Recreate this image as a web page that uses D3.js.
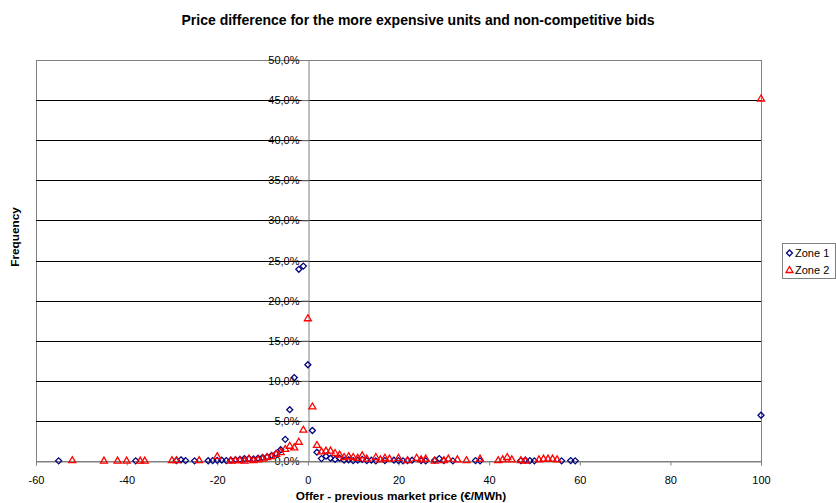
<!DOCTYPE html>
<html><head><meta charset="utf-8">
<script src="https://cdn.jsdelivr.net/npm/d3@7"></script>
<style>
body{margin:0;background:#fff;}
text{font-family:"Liberation Sans",Arial,sans-serif;}
</style></head>
<body><svg id="chart" width="836" height="503"></svg>
<script>
const title = "Price difference for the more expensive units and non-competitive bids";
const xTitle = "Offer - previous market price (€/MWh)";
const yTitle = "Frequency";
const seriesNames = ["Zone 1", "Zone 2"];
const xTicks = [-60, -40, -20, 0, 20, 40, 60, 80, 100];
const yTicks = [0, 5, 10, 15, 20, 25, 30, 35, 40, 45, 50];

const zone1X = [-55, -38, -29, -28, -27, -25, -22, -21, -20, -19, -18, -17, -16, -15, -14, -13, -12, -11, -10, -9, -8, -7, -6, -5, -4, -3, -2, -1, 0, 1, 2, 3, 4, 5, 6, 7, 8, 9, 10, 11, 12, 13, 14, 15, 17, 19, 20, 21, 22, 23, 25, 26, 28, 29, 30, 32, 37, 38, 47, 48, 49, 50, 56, 58, 59, 100];
const zone1Y = [0.02, 0.02, 0.05, 0.15, 0.05, 0.02, 0.03, 0.05, 0.08, 0.1, 0.05, 0.1, 0.15, 0.2, 0.3, 0.3, 0.25, 0.35, 0.45, 0.5, 0.7, 0.9, 1.4, 2.7, 6.4, 10.4, 23.9, 24.3, 12.0, 3.8, 1.1, 0.3, 0.6, 0.35, 0.2, 0.35, 0.1, 0.15, 0.05, 0.1, 0.2, 0.05, 0.1, 0.02, 0.05, 0.1, 0.05, 0.02, 0.05, 0.1, 0.05, 0.02, 0.1, 0.3, 0.05, 0.02, 0.05, 0.02, 0.05, 0.1, 0.05, 0.02, 0.02, 0.05, 0.02, 5.7];
const zone2X = [-52, -45, -42, -40, -37, -36, -30, -29, -24, -20, -17, -16, -15, -14, -13, -12, -11, -10, -9, -8, -7, -6, -5, -4, -3, -2, -1, 0, 1, 2, 3, 4, 5, 6, 7, 8, 9, 10, 11, 12, 13, 15, 16, 17, 18, 20, 22, 24, 25, 26, 28, 30, 31, 33, 35, 38, 42, 43, 44, 45, 47, 48, 51, 52, 53, 54, 55, 100];
const zone2Y = [0.1, 0.05, 0.05, 0.05, 0.05, 0.05, 0.1, 0.1, 0.1, 0.6, 0.05, 0.1, 0.1, 0.05, 0.3, 0.1, 0.2, 0.3, 0.5, 0.6, 0.9, 1.1, 1.5, 1.9, 1.7, 2.4, 3.9, 17.8, 6.8, 2.0, 1.2, 1.3, 1.3, 1.0, 0.8, 0.5, 0.6, 0.5, 0.4, 0.7, 0.3, 0.5, 0.2, 0.4, 0.3, 0.4, 0.1, 0.4, 0.2, 0.3, 0.05, 0.1, 0.3, 0.2, 0.1, 0.3, 0.1, 0.2, 0.5, 0.2, 0.1, 0.05, 0.2, 0.3, 0.3, 0.3, 0.2, 45.2];

const colors = ["#000080", "#FF0000"];
const svg = d3.select("#chart");
const L = 36, R = 761, T = 60, B = 461;
const x = d3.scaleLinear().domain([-60, 100]).range([L, R]);
const y = d3.scaleLinear().domain([0, 50]).range([B, T]);

// plot border
svg.append("rect").attr("x", L + 0.5).attr("y", T + 0.5).attr("width", R - L).attr("height", B - T)
  .attr("fill", "#fff").attr("stroke", "#808080").attr("stroke-width", 1);

// gridlines
svg.append("g").selectAll("line").data(yTicks.filter(v => v > 0 && v < 50)).join("line")
  .attr("x1", L).attr("x2", R).attr("y1", d => Math.round(y(d)) + 0.5).attr("y2", d => Math.round(y(d)) + 0.5)
  .attr("stroke", "#000").attr("stroke-width", 1);

// y axis at x=0
const fmt = d => d.toFixed(1).replace(".", ",") + "%";
const yAxis = d3.axisLeft(y).tickValues(yTicks).tickFormat(fmt).tickSize(7).tickPadding(2);
const gy = svg.append("g").attr("transform", `translate(${Math.round(x(0)) + 0.5},0)`).call(yAxis);
gy.select(".domain").attr("stroke", "#808080");
gy.selectAll(".tick line").attr("stroke", "#808080");
gy.selectAll("text").attr("font-size", 11).attr("fill", "#000").attr("font-family", "Liberation Sans, Arial, sans-serif");

// x axis at y=0
const xAxis = d3.axisBottom(x).tickValues(xTicks).tickFormat(d => String(d)).tickSize(4).tickPadding(11);
const gx = svg.append("g").attr("transform", `translate(0,${Math.round(y(0)) + 0.5})`).call(xAxis);
gx.select(".domain").attr("stroke", "#808080");
gx.selectAll(".tick line").attr("stroke", "#808080");
gx.selectAll("text").attr("font-size", 11).attr("fill", "#000").attr("font-family", "Liberation Sans, Arial, sans-serif");

// markers
const diamond = (cx, cy) => `M${cx},${cy - 3}L${cx + 3},${cy}L${cx},${cy + 3}L${cx - 3},${cy}Z`;
const triangle = (cx, cy) => `M${cx},${cy - 3.5}L${cx + 3.5},${cy + 2.5}L${cx - 3.5},${cy + 2.5}Z`;

const z1 = zone1X.map((v, i) => ({x: v, y: zone1Y[i]}));
const z2 = zone2X.map((v, i) => ({x: v, y: zone2Y[i]}));

svg.append("g").selectAll("path").data(z1).join("path")
  .attr("d", d => diamond(x(d.x), y(d.y)))
  .attr("fill", "none").attr("stroke", colors[0]).attr("stroke-width", 1.3);
svg.append("g").selectAll("path").data(z2).join("path")
  .attr("d", d => triangle(x(d.x), y(d.y)))
  .attr("fill", "none").attr("stroke", colors[1]).attr("stroke-width", 1.3);

// titles
svg.append("text").attr("x", 418).attr("y", 25).attr("text-anchor", "middle")
  .attr("font-size", 14).attr("font-weight", "bold").text(title);
svg.append("text").attr("x", 401).attr("y", 500).attr("text-anchor", "middle")
  .attr("font-size", 11.8).attr("font-weight", "bold").text(xTitle);
svg.append("text").attr("transform", "translate(19,237) rotate(-90)").attr("text-anchor", "middle")
  .attr("font-size", 11.8).attr("font-weight", "bold").text(yTitle);

// legend
const lg = svg.append("g");
lg.append("rect").attr("x", 782.5).attr("y", 243.5).attr("width", 53).attr("height", 35)
  .attr("fill", "#fff").attr("stroke", "#808080");
seriesNames.forEach((name, i) => {
  const cy = 253 + i * 17;
  lg.append("path").attr("d", i === 0 ? diamond(789.5, cy) : triangle(789.5, cy))
    .attr("fill", "none").attr("stroke", colors[i]).attr("stroke-width", 1.3);
  lg.append("text").attr("x", 795).attr("y", cy + 4).attr("font-size", 11).text(name);
});
</script></body></html>
